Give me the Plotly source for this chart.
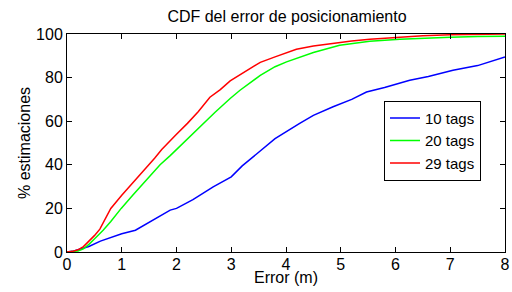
import plotly.graph_objects as go

# Data
x_10 = [0, 0.1, 0.2, 0.4, 0.61, 0.8, 1.0, 1.25, 1.5, 1.885, 2.0, 2.3, 2.67, 3.0, 3.2, 3.46, 3.8, 4.25, 4.5, 4.86, 5.2, 5.47, 5.8, 6.26, 6.6, 7.05, 7.5, 8.0]
y_10 = [0, 0.3, 1, 2.5, 5, 6.5, 8.4, 10, 13.5, 19.2, 20, 24, 29.9, 34.5, 39.5, 45, 52, 59, 62.7, 66.6, 70, 73.4, 75.5, 78.8, 80.5, 83.4, 85.5, 89.5]

x_20 = [0, 0.1, 0.2, 0.3, 0.4, 0.5, 0.66, 0.8, 0.99, 1.2, 1.45, 1.7, 1.885, 2.0, 2.16, 2.4, 2.7, 2.98, 3.16, 3.53, 3.8, 4.01, 4.5, 4.98, 5.53, 6.08, 6.5, 7.0, 7.5, 8.0]
y_20 = [0, 0.1, 0.5, 1.5, 3.5, 6, 10, 14, 20, 26, 33, 40, 44.2, 47, 51.3, 57, 64, 70.4, 74.2, 81, 85, 87.2, 91.5, 94.8, 96.7, 97.6, 98.1, 98.5, 98.8, 99.0]

x_29 = [0, 0.1, 0.2, 0.3, 0.4, 0.5, 0.6, 0.7, 0.8, 1.0, 1.2, 1.45, 1.6, 1.73, 1.885, 2.0, 2.2, 2.4, 2.61, 2.8, 2.98, 3.2, 3.53, 3.8, 4.19, 4.5, 4.8, 5.2, 5.53, 6.0, 6.5, 7.0, 7.5, 8.0]
y_29 = [0, 0.3, 1, 2.5, 5, 7.5, 10.5, 15, 20, 26, 31.5, 38.5, 43, 47, 51.3, 54, 59, 64.5, 71, 74.5, 78.5, 82, 87, 89.5, 93, 94.5, 95.6, 96.8, 97.6, 98.5, 99.2, 99.6, 99.8, 100]

series_names = ["10 tags", "20 tags", "29 tags"]
x_ticks = [0, 1, 2, 3, 4, 5, 6, 7, 8]
y_ticks = [0, 20, 40, 60, 80, 100]

FONT = "Liberation Sans, Arial, sans-serif"
FS = 16

fig = go.Figure()
for xs, ys, name, col in [(x_10, y_10, series_names[0], "#0000ff"),
                          (x_20, y_20, series_names[1], "#00ff00"),
                          (x_29, y_29, series_names[2], "#ff0000")]:
    fig.add_trace(go.Scatter(x=xs, y=ys, mode="lines", name=name,
                             line=dict(color=col, width=1.5)))

axis_common = dict(showgrid=False, zeroline=False, showline=True, linecolor="black",
                   linewidth=1, mirror="ticks", ticks="inside", ticklen=5,
                   tickcolor="black", tickwidth=1, automargin=False,
                   ticklabeloverflow="allow",
                   tickfont=dict(family=FONT, size=FS, color="black"))

fig.update_layout(
    width=512, height=292,
    margin=dict(l=67, r=7, t=34, b=40),
    paper_bgcolor="white", plot_bgcolor="white",
    title=dict(text="CDF del error de posicionamiento", x=287 / 512, xanchor="center",
               y=1 - 16.5 / 292, yanchor="middle",
               font=dict(family=FONT, size=FS, color="black")),
    xaxis=dict(range=[0, 8], tickvals=x_ticks, ticklabelstandoff=-2, **axis_common),
    yaxis=dict(range=[0, 100], tickvals=y_ticks, **axis_common),
    legend=dict(x=(481 - 67) / 438, y=(252 - 140.7) / 218, xanchor="right", yanchor="middle",
                bgcolor="white", bordercolor="black", borderwidth=1,
                font=dict(family=FONT, size=15, color="black"),
                itemwidth=30),
    showlegend=True,
    annotations=[
        dict(text="Error (m)", xref="paper", yref="paper", x=(286 - 67) / 438,
             y=0, yshift=-25, xanchor="center", yanchor="middle", showarrow=False,
             font=dict(family=FONT, size=FS, color="black")),
        dict(text="% estimaciones", xref="paper", yref="paper", x=0, xshift=-43,
             y=0.5, xanchor="center", yanchor="middle", textangle=-90, showarrow=False,
             font=dict(family=FONT, size=FS, color="black")),
    ],
)

fig.write_html("out.html", config={"displayModeBar": False},
               post_script="document.body.style.margin='0';document.body.style.padding='0';"
                           "document.body.style.overflow='hidden';")
